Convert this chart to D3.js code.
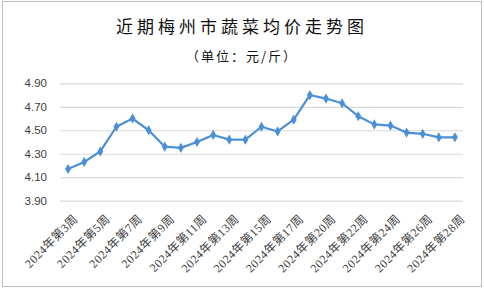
<!DOCTYPE html>
<html><head><meta charset="utf-8">
<script src="https://cdn.jsdelivr.net/npm/d3@7"></script>
<style>html,body{margin:0;padding:0;background:#fff;}svg{display:block;}</style>
</head><body>
<svg id="c" width="484" height="289"></svg>
<script>
const title = "近期梅州市蔬菜均价走势图";
const subtitle = "（单位：元/斤）";
const weeks = [3,4,5,6,7,8,9,10,11,12,13,14,15,16,17,19,20,21,22,23,24,25,26,27,28];
const categories = weeks.map(w => "2024年第" + w + "周");
const prices = [4.17,4.23,4.32,4.53,4.60,4.50,4.36,4.35,4.40,4.46,4.42,4.42,4.53,4.49,4.59,4.80,4.77,4.73,4.62,4.55,4.54,4.48,4.47,4.44,4.44];
const yTicks = [3.90,4.10,4.30,4.50,4.70,4.90];

(function(){
const svg = d3.select("#c");
svg.append("rect").attr("x",2.5).attr("y",1.5).attr("width",479).attr("height",285)
  .attr("fill","#fff").attr("stroke","#bfbfbf").attr("stroke-width",1);

const pl = 60, pr = 463, pt = 83.3, pb = 200.7;
const x = d3.scalePoint().domain(categories).range([pl, pr]).padding(0.5);
const y = d3.scaleLinear().domain([3.9, 4.9]).range([pb, pt]);

svg.append("text").attr("x",242).attr("y",33).attr("text-anchor","middle")
  .attr("font-family","'Noto Sans CJK SC'").attr("font-size",17).attr("letter-spacing",4)
  .attr("fill","#111").text(title);
svg.append("text").attr("x",242).attr("y",61).attr("text-anchor","middle")
  .attr("font-family","'Noto Sans CJK SC'").attr("font-size",13).attr("letter-spacing",2)
  .attr("fill","#111").text(subtitle);

const yAxis = svg.append("g").attr("transform",`translate(${pl},0)`)
  .call(d3.axisLeft(y).tickValues(yTicks).tickFormat(d3.format(".2f")).tickSize(-(pr-pl)).tickPadding(13));
yAxis.select(".domain").remove();
yAxis.selectAll(".tick line").attr("stroke","#d9d9d9").attr("stroke-width",1.2);
yAxis.selectAll(".tick text").attr("font-family","'Liberation Sans', Arial").attr("font-size",11.5).attr("fill","#404040");

const xAxis = svg.append("g").attr("transform",`translate(0,${pb})`)
  .call(d3.axisBottom(x).tickValues(categories.filter((d,i)=>i%2===0)).tickSize(0).tickPadding(0));
xAxis.select(".domain").remove();
xAxis.selectAll(".tick text")
  .attr("font-family","'Liberation Serif','Noto Sans CJK SC'").attr("font-size",12).attr("letter-spacing",0.4).attr("fill","#404040")
  .attr("text-anchor","end").attr("dy",0).attr("dx",0)
  .attr("transform","translate(10,19) rotate(-45)");

const line = d3.line().x((d,i)=>x(categories[i])).y(d=>y(d));
svg.append("path").datum(prices).attr("d",line).attr("fill","none")
  .attr("stroke","#4a8fd8").attr("stroke-width",2.2).attr("stroke-linejoin","round");
svg.selectAll("path.m").data(prices).enter().append("path").attr("class","m")
  .attr("d", d3.symbol(d3.symbolDiamond, 30))
  .attr("transform",(d,i)=>`translate(${x(categories[i])},${y(d)})`)
  .attr("fill","#4a8fd8");
})();
</script>
</body></html>
